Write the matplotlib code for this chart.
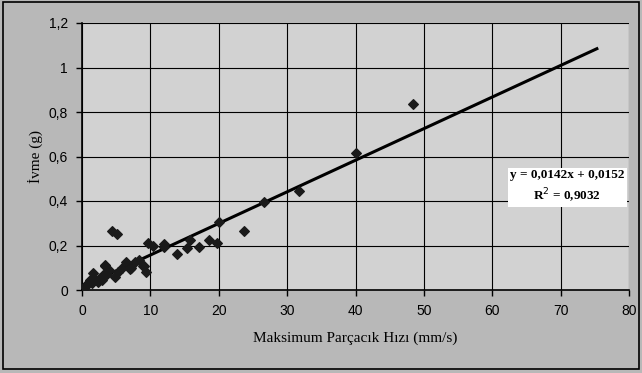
import numpy as np
import matplotlib
matplotlib.use("Agg")
import matplotlib.pyplot as plt

# Maksimum parcacik hizi (mm/s) ve ivme (g)
ppv = [0.4, 1.1, 1.6, 2.3, 3.1, 3.3, 3.4, 4.0, 4.8, 5.3, 6.5, 7.0, 7.2, 7.7,
       8.4, 8.9, 9.0, 9.3, 0.2, 0.7, 1.4, 1.9, 2.6, 2.9, 3.7, 4.4, 5.1, 5.8,
       9.7, 10.4, 12.0, 12.0, 13.9, 15.4, 15.8, 17.1, 18.6, 19.8, 20.0, 23.7,
       26.6, 31.8, 40.0, 48.4]
ivme = [0.015, 0.045, 0.075, 0.037, 0.067, 0.112, 0.108, 0.09, 0.06, 0.082,
        0.124, 0.094, 0.097, 0.127, 0.135, 0.11, 0.108, 0.082, 0.005, 0.025,
        0.03, 0.05, 0.055, 0.045, 0.07, 0.267, 0.252, 0.1, 0.213, 0.2, 0.205,
        0.195, 0.162, 0.187, 0.225, 0.195, 0.225, 0.21, 0.307, 0.267, 0.397,
        0.446, 0.614, 0.835]

# Dogrusal regresyon (grafikteki denklem)
egim, kesim = 0.0142, 0.0152
x_trend = np.array([0, 75.3])

fig = plt.figure(figsize=(6.42, 3.73), dpi=100, facecolor='#b8b8b8')
ax = fig.add_axes([82/642, 1-290/373, (629-82)/642, (290-23)/373])
ax.set_facecolor('#d2d2d2')

ax.plot(x_trend, egim*x_trend + kesim, color='black', lw=2.2, zorder=3)
ax.scatter(ppv, ivme, marker='D', s=24, color='#1a1a1a', zorder=4)

ax.set_xlim(0, 80)
ax.set_ylim(0, 1.2)
ax.set_xticks(np.arange(0, 81, 10))
ax.set_yticks(np.arange(0, 1.21, 0.2))
ax.set_yticklabels(['0', '0,2', '0,4', '0,6', '0,8', '1', '1,2'])
ax.grid(True, color='black', lw=0.8)
ax.set_axisbelow(True)
for s in ['top', 'right']:
    ax.spines[s].set_visible(False)
ax.spines['left'].set_linewidth(1.2)
ax.spines['bottom'].set_linewidth(1.2)
ax.tick_params(direction='out', length=4, width=1, labelsize=10, pad=6)
for lab in ax.get_xticklabels() + ax.get_yticklabels():
    lab.set_fontfamily('Liberation Sans')

ax.set_xlabel('Maksimum Parçacık Hızı (mm/s)', fontfamily='Liberation Serif',
              fontsize=11, labelpad=10)
ax.set_ylabel('İvme (g)', fontfamily='Liberation Serif', fontsize=11, labelpad=4)

ax.text(71.0, 0.463, 'y = 0,0142x + 0,0152\nR$^2$ = 0,9032', ha='center', va='center',
        fontfamily='Liberation Serif', fontweight='bold', fontsize=9.5,
        linespacing=1.35, zorder=5,
        bbox=dict(boxstyle='square,pad=0.2', facecolor='white', edgecolor='none'))

# cerceve
fig.patches.append(plt.Rectangle((0.005, 0.012), 0.99, 0.982, transform=fig.transFigure,
                                 fill=False, edgecolor='black', lw=1.2))

fig.savefig('out.png', dpi=100, facecolor=fig.get_facecolor())
